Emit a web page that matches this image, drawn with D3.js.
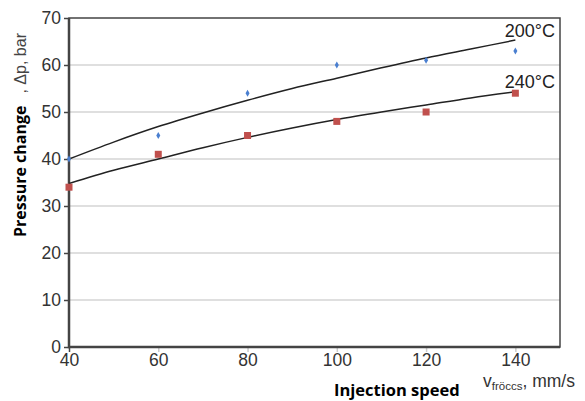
<!DOCTYPE html>
<meta charset="utf-8">
<style>
body { margin: 0; background: #fff; }
.tick text { font: 17.5px "Liberation Sans", Arial, sans-serif; fill: #333; }
.grid line { stroke: #d4d4d4; stroke-width: 1.5; }
</style>
<svg width="585" height="401"></svg>
<script src="https://d3js.org/d3.v7.min.js"></script>
<script>

// measured points
var speeds = [40, 60, 80, 100, 120, 140];
var dp200 = [40, 45, 54, 60, 61, 63];
var dp240 = [34, 41, 45, 48, 50, 54];

// trend lines
var fitSpeeds = [40, 50, 60, 70, 80, 90, 100, 110, 120, 130, 140];
var fit200 = [40.0, 43.6, 46.9, 49.8, 52.5, 55.0, 57.2, 59.4, 61.5, 63.4, 65.3];
var fit240 = [34.8, 37.6, 40.0, 42.4, 44.6, 46.6, 48.4, 50.0, 51.5, 53.0, 54.3];

var xTicks = [40, 60, 80, 100, 120, 140];
var yTicks = [0, 10, 20, 30, 40, 50, 60, 70];

var svg = d3.select("svg");
var margin = {left: 69, right: 25, top: 18, bottom: 54};
var width = 585 - margin.left - margin.right,
	height = 401 - margin.top - margin.bottom;

var x = d3.scaleLinear().domain([40, 150]).range([0, width]);
var y = d3.scaleLinear().domain([0, 70]).range([height, 0]);

var g = svg.append("g")
	.attr("transform", "translate(" + margin.left + "," + margin.top + ")");

// grid
g.append("g")
	.attr("class", "grid")
  .selectAll("line")
  .data(yTicks.slice(1, -1))
  .enter().append("line")
	.attr("x1", 0)
	.attr("x2", width)
	.attr("y1", function(d) { return y(d); })
	.attr("y2", function(d) { return y(d); });

// axes
var yAxis = g.append("g")
	.call(d3.axisLeft(y).tickValues(yTicks).tickSize(5).tickPadding(3));
yAxis.select(".domain").remove();
yAxis.selectAll(".tick line").attr("stroke", "#444").attr("stroke-width", 1.5);

var xAxis = g.append("g")
	.attr("transform", "translate(0," + height + ")")
	.call(d3.axisBottom(x).tickValues(xTicks).tickSize(5).tickPadding(2));
xAxis.select(".domain").remove();
xAxis.selectAll(".tick line").attr("stroke", "#ccc").attr("stroke-width", 1.5);
xAxis.select(".tick line").attr("stroke", "#444");

// frame
g.append("rect")
	.attr("width", width)
	.attr("height", height)
	.attr("fill", "none")
	.attr("stroke", "#444")
	.attr("stroke-width", 1.5);
g.append("path")
	.attr("d", "M0,0V" + height + "H" + width)
	.attr("fill", "none")
	.attr("stroke", "#444")
	.attr("stroke-width", 2.5);

// trend lines
var line = d3.line()
	.x(function(d) { return x(d[0]); })
	.y(function(d) { return y(d[1]); })
	.curve(d3.curveMonotoneX);

[fit200, fit240].forEach(function(fit) {
	g.append("path")
		.datum(d3.zip(fitSpeeds, fit))
		.attr("d", line)
		.attr("fill", "none")
		.attr("stroke", "#222")
		.attr("stroke-width", 1.5);
});

// points
g.append("g").selectAll("path")
  .data(d3.zip(speeds, dp200))
  .enter().append("path")
	.attr("d", d3.symbol(d3.symbolDiamond, 14))
	.attr("transform", function(d) { return "translate(" + x(d[0]) + "," + y(d[1]) + ")"; })
	.attr("fill", "#4a7fd0");

g.append("g").selectAll("rect")
  .data(d3.zip(speeds, dp240))
  .enter().append("rect")
	.attr("x", function(d) { return x(d[0]) - 3.5; })
	.attr("y", function(d) { return y(d[1]) - 3.5; })
	.attr("width", 7)
	.attr("height", 7)
	.attr("fill", "#c0504d");

// series labels
var labelFont = '18px "Liberation Sans", Arial, sans-serif';
g.append("text")
	.attr("x", width - 5)
	.attr("y", y(65.9))
	.attr("text-anchor", "end")
	.style("font", labelFont)
	.attr("fill", "#222")
	.text("200°C");
g.append("text")
	.attr("x", width - 5)
	.attr("y", y(55.2))
	.attr("text-anchor", "end")
	.style("font", labelFont)
	.attr("fill", "#222")
	.text("240°C");

// y title
var yt = svg.append("text")
	.attr("transform", "translate(26,237) rotate(-90)");
yt.append("tspan")
	.style("font", 'bold 16px "Open Sans", sans-serif')
	.attr("fill", "#000")
	.text("Pressure change");
yt.append("tspan")
	.attr("dx", 12)
	.style("font", '16px "Liberation Sans", Arial, sans-serif')
	.attr("fill", "#444")
	.text(", Δp, bar");

// x title
svg.append("text")
	.attr("x", 334)
	.attr("y", 396)
	.style("font", 'bold 16.5px "Open Sans", sans-serif')
	.attr("fill", "#000")
	.text("Injection speed");

var xt = svg.append("text")
	.attr("x", 483)
	.attr("y", 387)
	.style("font", '17.5px "Liberation Sans", Arial, sans-serif')
	.attr("fill", "#333");
xt.append("tspan").text("v");
xt.append("tspan").attr("dy", 3).style("font-size", "11.5px").text("fröccs");
xt.append("tspan").attr("dy", -3).text(", mm/s");

</script>
